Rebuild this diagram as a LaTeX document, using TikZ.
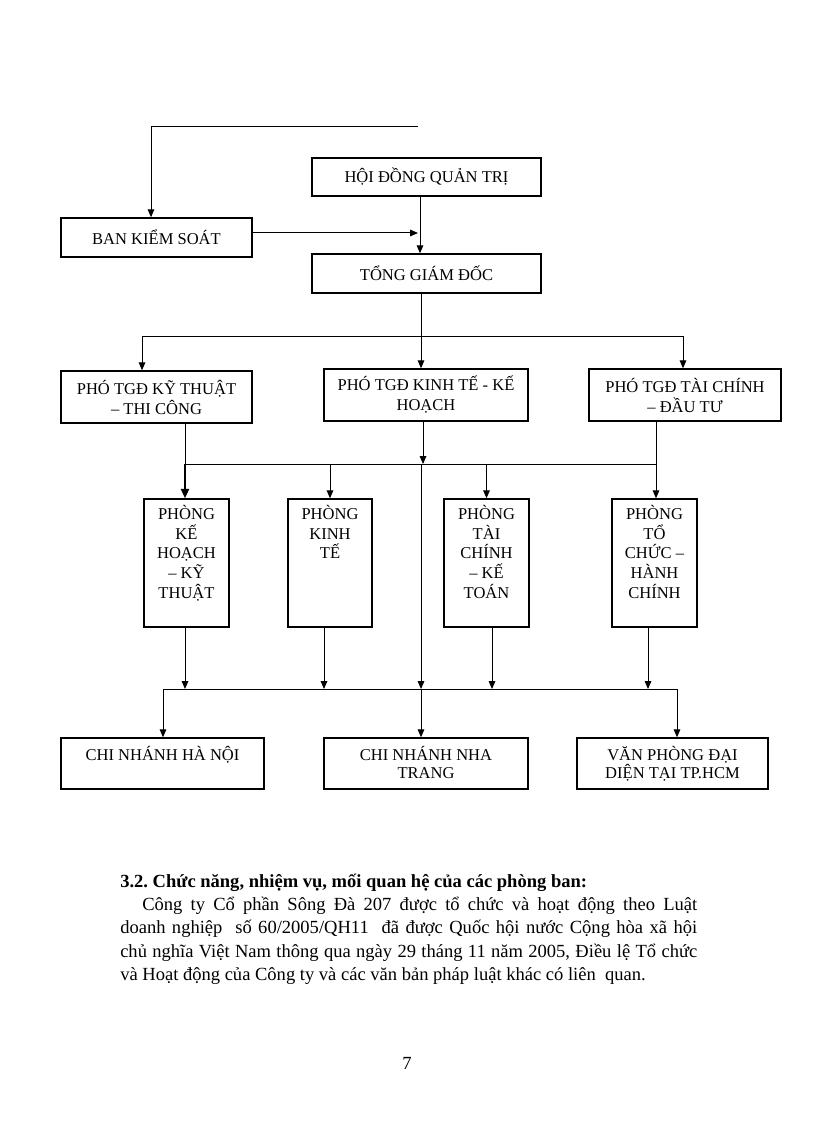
\documentclass[tikz,border=0pt]{standalone}
\usepackage{fontspec}
\setmainfont{Liberation Serif}
\usetikzlibrary{arrows.meta}
\newcommand{\chartfont}{\fontsize{12.4pt}{15pt}\selectfont}
\newcommand{\bodyfont}{\fontsize{13.9pt}{17.55pt}\selectfont}
\frenchspacing
\begin{document}
\begin{tikzpicture}[x=0.75pt,y=-0.75pt,
  box/.style={draw, line width=1.1pt, inner sep=0pt, font=\chartfont, align=center},
  tallbox/.style={draw, line width=1.1pt, inner sep=0pt, font=\chartfont},
  conn/.style={line width=0.75pt},
  arr/.style={conn, -{Triangle[length=6pt,width=5pt]}},
  thickarr/.style={line width=1.5pt, -{Triangle[length=7pt,width=6pt]}},
]
\fill[white] (0,0) rectangle (816,1123);
\useasboundingbox (0,0) rectangle (816,1123);

% top level
\node[box, minimum width=171.75pt, minimum height=28.5pt] (hdqt) at (426.5,177) {HỘI ĐỒNG QUẢN TRỊ};
\node[box, minimum width=143.25pt, minimum height=29.25pt] (bks) at (156.5,237.5) {BAN KIỂM SOÁT};
\node[box, minimum width=171.75pt, minimum height=29.25pt] (tgd) at (426.5,273.5) {TỔNG GIÁM ĐỐC};

% deputies
\node[box, minimum width=143.25pt, minimum height=39pt] (pkt) at (156.5,397) {PHÓ TGĐ KỸ THUẬT\\– THI CÔNG};
\node[box, minimum width=153pt, minimum height=39pt] (pkh) at (426,395) {PHÓ TGĐ KINH TẾ - KẾ\\HOẠCH};
\node[box, minimum width=144pt, minimum height=39pt] (ptc) at (685,395) {PHÓ TGĐ TÀI CHÍNH\\– ĐẦU TƯ};

% departments
\node[tallbox] (pg1) at (186.5,563) {\parbox[c][96pt][t]{63.75pt}{\centering\fontsize{12.4pt}{14.8pt}\selectfont\rule{0pt}{15.3pt}PHÒNG\\KẾ\\HOẠCH\\– KỸ\\THUẬT}};
\node[tallbox] (pg2) at (330,563) {\parbox[c][96pt][t]{63pt}{\centering\fontsize{12.4pt}{14.8pt}\selectfont\rule{0pt}{15.3pt}PHÒNG\\KINH\\TẾ}};
\node[tallbox] (pg3) at (486.5,563) {\parbox[c][96pt][t]{63.75pt}{\centering\fontsize{12.4pt}{14.8pt}\selectfont\rule{0pt}{15.3pt}PHÒNG\\TÀI\\CHÍNH\\– KẾ\\TOÁN}};
\node[tallbox] (pg4) at (654.5,563) {\parbox[c][96pt][t]{63.75pt}{\centering\fontsize{12.4pt}{14.8pt}\selectfont\rule{0pt}{15.3pt}PHÒNG\\TỔ\\CHỨC –\\HÀNH\\CHÍNH}};

% branches
\node[tallbox] (hn) at (162.5,763.5) {\parbox[c][38.25pt][t]{152.25pt}{\centering\fontsize{12.4pt}{13.7pt}\selectfont\rule{0pt}{16.8pt}CHI NHÁNH HÀ NỘI}};
\node[tallbox] (nt) at (426,763.5) {\parbox[c][38.25pt][t]{153pt}{\centering\fontsize{12.4pt}{13.7pt}\selectfont\rule{0pt}{16.8pt}CHI NHÁNH NHA\\TRANG}};
\node[tallbox] (vp) at (672.5,763.5) {\parbox[c][38.25pt][t]{143.25pt}{\centering\fontsize{12.4pt}{13.7pt}\selectfont\rule{0pt}{16.8pt}VĂN PHÒNG ĐẠI\\DIỆN TẠI TP.HCM}};

% connectors, top
\coordinate (topR) at (418,127);
\draw[arr] (topR) -| (bks.north -| 151,0);
\coordinate (bksend) at (418,233);
\draw[arr] (bks.east |- 0,233) -- (bksend);
\draw[arr] (hdqt.south -| 420,0) -- (tgd.north -| 420,0);

\coordinate (b1) at (421,336);
\draw[conn] (tgd.south -| 421,0) -- (b1);
\draw[arr] (b1) -- (pkh.north -| 421,0);
\draw[arr] (b1) -| (pkt.north -| 142,0);
\draw[arr] (b1) -| (ptc.north -| 683,0);

% middle bus
\coordinate (bL) at (185,464);
\coordinate (bR) at (656,464);
\coordinate (bM) at (421,464);
\draw[conn] (pkt.south -| bL) -- (bL) -- (bR);
\draw[thickarr] (bL) -- (pg1.north -| bL);
\draw[arr] (pg2.north |- bL) -- (pg2.north);
\draw[arr] (pg3.north |- bL) -- (pg3.north);
\draw[arr] (ptc.south -| bR) -- (pg4.north -| bR);
\draw[arr] (pkh.south -| 423,0) -- (bL -| 423,0);

% bottom bus
\coordinate (cL) at (163,689);
\coordinate (cR) at (677,689);
\coordinate (cM) at (421,689);
\draw[arr] (bM) -- (cM);
\draw[arr] (pg1.south -| 185,0) -- (cL -| 185,0);
\draw[arr] (pg2.south -| 324,0) -- (cL -| 324,0);
\draw[arr] (pg3.south -| 492,0) -- (cL -| 492,0);
\draw[arr] (pg4.south -| 648,0) -- (cL -| 648,0);
\draw[conn] (cL) -- (cR);
\draw[arr] (cL) -- (hn.north -| cL);
\draw[arr] (cM) -- (nt.north -| cM);
\draw[arr] (cR) -- (vp.north -| cR);

% body text
\node[anchor=base west, inner sep=0pt] (body) at (120,887) {\parbox[t]{432.75pt}{\bodyfont\emergencystretch=2em
\textbf{3.2. Chức năng, nhiệm vụ, mối quan hệ của các phòng ban:}\par
\hspace*{16.5pt}Công ty Cổ phần Sông Đà 207 được tổ chức và hoạt động theo Luật\linebreak
doanh nghiệp \ số 60/2005/QH11 \ đã được Quốc hội nước Cộng hòa xã hội\linebreak
chủ nghĩa Việt Nam thông qua ngày 29 tháng 11 năm 2005, Điều lệ Tổ chức\linebreak
và Hoạt động của Công ty và các văn bản pháp luật khác có liên \ quan.}};
\node[anchor=base, inner sep=0pt, font=\bodyfont] (pagenum) at (407,1069) {7};
\end{tikzpicture}
\end{document}
